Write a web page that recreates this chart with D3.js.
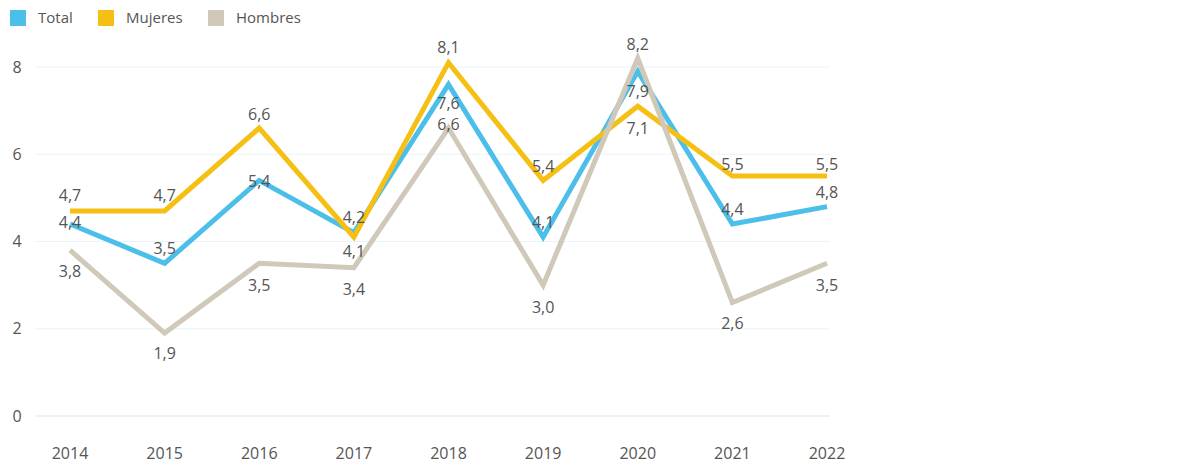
<!DOCTYPE html>
<html><head><meta charset="utf-8">
<script src="https://cdn.jsdelivr.net/npm/d3@7"></script>
<style>body{margin:0;background:#fff}text{font-family:"Open Sans",sans-serif;fill:#555}</style>
</head><body><svg id="c" width="1180" height="468"></svg>
<script>
var years = [2014, 2015, 2016, 2017, 2018, 2019, 2020, 2021, 2022];
var total = [4.4, 3.5, 5.4, 4.2, 7.6, 4.1, 7.9, 4.4, 4.8];
var mujeres = [4.7, 4.7, 6.6, 4.1, 8.1, 5.4, 7.1, 5.5, 5.5];
var hombres = [3.8, 1.9, 3.5, 3.4, 6.6, 3.0, 8.2, 2.6, 3.5];
var yTicks = [0, 2, 4, 6, 8];

// label offsets (px) relative to each point
var totalDy = [-2, -15, 1, -15, 19, -15, 20, -15, -14];
var mujeresDy = [-16, -16, -14, 14, -15, -14, 22, -12, -12];
var hombresDy = [21, 20, 22, 22, -4, 22, -14, 21, 22];

var series = [
	{name: "Total", values: total, dy: totalDy, color: "#4bbfe9"},
	{name: "Mujeres", values: mujeres, dy: mujeresDy, color: "#f5c013"},
	{name: "Hombres", values: hombres, dy: hombresDy, color: "#d0c9b9"}
];

var svg = d3.select("#c");
var x = d3.scalePoint().domain(years).range([70, 827]);
var y = d3.scaleLinear().domain([0, 8]).range([416, 67]);

// grid
svg.selectAll(".grid").data(yTicks).enter().append("line")
	.attr("x1", 35).attr("x2", 830)
	.attr("y1", function(d){ return y(d); }).attr("y2", function(d){ return y(d); })
	.attr("stroke", function(d){ return d == 0 ? "#cde9f5" : "#e8f4fa"; })
	.attr("stroke-width", 1);

svg.selectAll(".yl").data(yTicks).enter().append("text")
	.attr("x", 17).attr("y", function(d){ return y(d); }).attr("dy", "0.35em")
	.attr("text-anchor", "middle").style("font-size", "16px").text(function(d){ return d; });

svg.selectAll(".xl").data(years).enter().append("text")
	.attr("x", function(d){ return x(d); }).attr("y", 453).attr("dy", "0.35em")
	.attr("text-anchor", "middle").style("font-size", "16px").text(function(d){ return d; });

var line = d3.line().x(function(d, i){ return x(years[i]); }).y(function(d){ return y(d); });

series.forEach(function(s){
	svg.append("path").attr("d", line(s.values))
		.attr("fill", "none").attr("stroke", s.color).attr("stroke-width", 5)
		.attr("stroke-linejoin", "miter");
});

series.forEach(function(s){
	svg.selectAll(null).data(s.values).enter().append("text")
		.attr("x", function(d, i){ return x(years[i]); })
		.attr("y", function(d, i){ return y(d) + s.dy[i]; })
		.attr("dy", "0.35em").attr("text-anchor", "middle")
		.style("font-size", "16px")
		.text(function(d){ return d3.format(".1f")(d).replace(".", ","); });
});

// legend
var legX = [10, 98, 208];
series.forEach(function(s, i){
	svg.append("rect").attr("x", legX[i]).attr("y", 10).attr("width", 16).attr("height", 16).attr("fill", s.color);
	svg.append("text").attr("x", legX[i] + 28).attr("y", 18).attr("dy", "0.35em")
		.style("font-size", "15px").text(s.name);
});
</script></body></html>
